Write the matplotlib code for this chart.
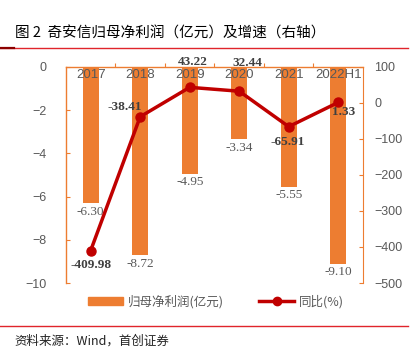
import matplotlib
matplotlib.use("Agg")
import matplotlib.pyplot as plt
from matplotlib.lines import Line2D
from matplotlib.patches import Patch

plt.rcParams['font.family'] = ['Liberation Sans', 'Noto Sans CJK SC', 'DejaVu Sans']

categories = ["2017", "2018", "2019", "2020", "2021", "2022H1"]
profit = [-6.30, -8.72, -4.95, -3.34, -5.55, -9.10]
growth = [-409.98, -38.41, 43.22, 32.44, -65.91, 1.33]
left_ticks = [0, -2, -4, -6, -8, -10]
right_ticks = [100, 0, -100, -200, -300, -400, -500]

ORANGE = "#ED7D31"
RED = "#C00000"
GRAY = "#595959"

fig = plt.figure(figsize=(4.12, 3.52), dpi=100)
ax = fig.add_axes([0.160, 0.196, 0.721, 0.614])
x = list(range(len(categories)))
ax.bar(x, profit, width=0.33, color=ORANGE, zorder=2)
ax.set_xlim(-0.5, len(categories) - 0.5)
ax.set_ylim(-10, 0)
ax.set_yticks(left_ticks)
ax.set_yticklabels(["0", "\u22122", "\u22124", "\u22126", "\u22128", "\u221210"])
ax.tick_params(axis='y', direction='in', length=3, color=ORANGE, labelsize=9,
               labelcolor=GRAY, pad=14)
ax.xaxis.tick_top()
ax.set_xticks([i + 0.5 for i in range(len(categories) - 1)])
ax.set_xticklabels([])
ax.tick_params(axis='x', direction='out', length=3, color=ORANGE)
for s in ['bottom', 'right']:
    ax.spines[s].set_visible(False)
for s in ['left', 'top']:
    ax.spines[s].set_color(ORANGE)
    ax.spines[s].set_linewidth(1.0)

for xi, c in zip(x, categories):
    ax.text(xi, -0.12, c, ha='center', va='top', fontsize=9.5, color=GRAY, zorder=3)
for xi, v in zip(x, profit):
    ax.text(xi, v - 0.12, f"{v:.2f}", ha='center', va='top', fontsize=9.5, color=GRAY,
            family='Liberation Serif')

ax2 = ax.twinx()
ax2.set_ylim(-500, 100)
ax2.set_yticks(right_ticks)
ax2.set_yticklabels(["100", "0", "\u2212100", "\u2212200", "\u2212300", "\u2212400", "\u2212500"])
ax2.tick_params(axis='y', direction='in', length=3, color=ORANGE, labelsize=9,
                labelcolor=GRAY, pad=8)
for s in ['bottom', 'left', 'top']:
    ax2.spines[s].set_visible(False)
ax2.spines['right'].set_color(ORANGE)
ax2.plot(x, growth, color=RED, lw=2.5, marker='o', ms=6.5, zorder=4)

offsets = [(0, -10.5), (-11, 7), (2, 18), (6, 20), (-1, -11), (4, -7)]
for xi, v, (dx, dy) in zip(x, growth, offsets):
    ax2.annotate(f"{v:.2f}", (xi, v), xytext=(dx, dy), textcoords='offset points',
                 ha='center', va='center', fontsize=9.5, fontweight='bold',
                 color="#404040", family='Liberation Serif', zorder=5)

# title and rules
fig.text(0.036, 0.905, "图 2  奇安信归母净利润（亿元）及增速（右轴）", fontsize=10.5,
         family=['Noto Sans CJK SC'], color='black', va='center')
fig.add_artist(Line2D([0.0, 0.99], [0.863, 0.863], color='#E0242B', lw=1.0))
fig.add_artist(Line2D([0.0, 0.033], [0.863, 0.863], color='#8B0000', lw=1.6))
fig.add_artist(Line2D([0.0, 0.99], [0.074, 0.074], color='#E0242B', lw=1.0))
fig.text(0.036, 0.03, "资料来源：Wind，首创证券", fontsize=9, family=['Noto Sans CJK SC'],
         style='italic', color='#222222', va='center')

handles = [Patch(color=ORANGE), Line2D([], [], color=RED, lw=2.5, marker='o', ms=6)]
fig.legend(handles, ["归母净利润(亿元)", "同比(%)"], loc='center', bbox_to_anchor=(0.525, 0.143),
           ncol=2, frameon=False, handlelength=2.8, handleheight=0.6, handletextpad=0.4,
           columnspacing=2.8, prop={'family': ['Noto Sans CJK SC'], 'size': 9}, labelcolor=GRAY)

fig.savefig("out.png", dpi=100)
